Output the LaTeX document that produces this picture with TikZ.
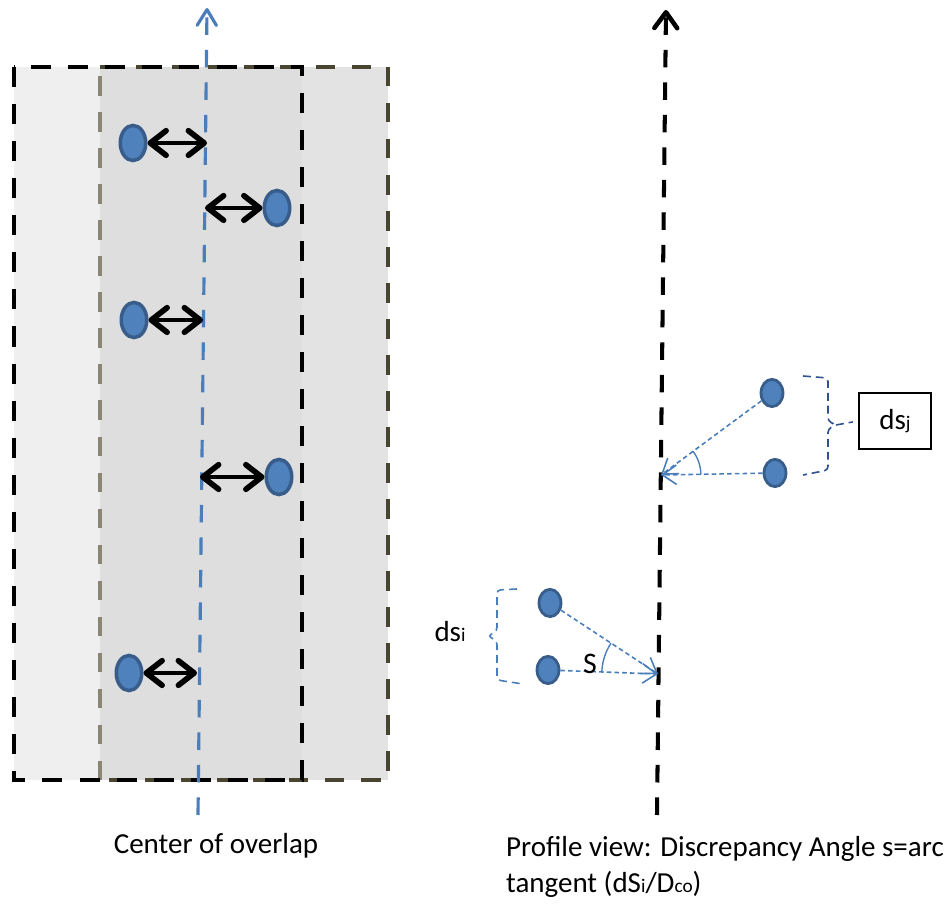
\documentclass[tikz,border=0pt]{standalone}
\usepackage{fontspec}
\setmainfont{Carlito}
\usetikzlibrary{shapes.geometric,arrows.meta,angles}

\definecolor{dotblue}{HTML}{4F81BD}
\definecolor{dotedge}{HTML}{385D8A}
\definecolor{lineblue}{HTML}{4A7EBB}
\definecolor{bracecol}{HTML}{2F528F}
\definecolor{olivedash}{HTML}{4A4530}
\definecolor{olivegray}{HTML}{8A8676}
\definecolor{stripA}{HTML}{EFEFEF}
\definecolor{stripB}{HTML}{DEDEDE}
\definecolor{stripC}{HTML}{E3E3E3}

\newcommand{\smalltxt}[1]{{\fontsize{11pt}{11pt}\selectfont #1}}

\tikzset{
  bigdot/.style={ellipse, draw=dotedge, fill=dotblue, line width=2pt,
    minimum width=14.5pt, minimum height=20pt, inner sep=0pt},
  smalldot/.style={ellipse, draw=dotedge, fill=dotblue, line width=1.6pt,
    minimum width=12.5pt, minimum height=15.5pt, inner sep=0pt},
  offsetarrow/.style={draw=black, line width=2.3pt,
    {Straight Barb[length=9pt,width=14pt,line width=3.2pt,round]}-{Straight Barb[length=9pt,width=14pt,line width=3.2pt,round]}},
  sightline/.style={draw=lineblue, line width=0.9pt, dash pattern=on 2.6pt off 1.8pt,
    -{Straight Barb[length=8pt,width=11pt,line width=0.9pt]}},
  bracket/.style={line width=0.9pt, dash pattern=on 4.5pt off 2.8pt, rounded corners=2pt},
  caption/.style={font=\fontsize{16.5pt}{20.5pt}\selectfont}
}

\begin{document}
\begin{tikzpicture}[x=0.02cm, y=-0.02cm]
  \useasboundingbox (0,0) rectangle (948,905);

  % two overlapping strips
  \fill[stripA] (14,67) rectangle (100,780);
  \fill[stripB] (100,67) rectangle (302,780);
  \fill[stripC] (302,67) rectangle (388,780);
  \draw[olivedash, line width=1.8pt, dash pattern=on 11pt off 9.5pt]
    (100,67) -- (388,67) -- (388,780) -- (100,780);
  \draw[olivegray, line width=1.8pt, dash pattern=on 11pt off 9.5pt] (100,780) -- (100,67);
  \draw[black, line width=2.3pt, dash pattern=on 11.4pt off 9.7pt] (14,67) rectangle (302,780);

  % center of overlap
  \coordinate (cb) at (198,815);
  \coordinate (ct) at (207,8);
  \draw[lineblue, line width=1.8pt, dash pattern=on 10pt off 8.5pt,
    -{Straight Barb[length=9pt,width=11pt,line width=1.8pt,round]}] (cb) -- (ct);

  \coordinate (c1) at (207,143);
  \coordinate (c2) at (205,208);
  \coordinate (c3) at (203,320);
  \coordinate (c4) at (200,477);
  \coordinate (c5) at (197,673);

  \begin{scope}[every node/.style={bigdot}]
    \node (d1) at (133,143) {};
    \node (d2) at (277,208) {};
    \node (d3) at (134,320) {};
    \node (d4) at (279,477) {};
    \node (d5) at (129,673) {};
  \end{scope}

  \path (d1) edge[offsetarrow] (c1);
  \path (d2) edge[offsetarrow] (c2);
  \path (d3) edge[offsetarrow] (c3);
  \path (d4) edge[offsetarrow] (c4);
  \path (d5) edge[offsetarrow] (c5);

  \node[caption, anchor=base] (capl) at (216,854) {Center of overlap};

  % profile view
  \coordinate (pb) at (657,815);
  \coordinate (pt) at (666,10);
  \draw[black, line width=2.3pt, dash pattern=on 10pt off 8.5pt,
    -{Straight Barb[length=9pt,width=13pt,line width=2.6pt,round]}] (pb) -- (pt);

  \coordinate (vj) at (661,475);
  \coordinate (vi) at (658,674);

  \begin{scope}[every node/.style={smalldot}]
    \node (j1) at (772,393) {};
    \node (j2) at (775,473) {};
    \node (i1) at (550,603) {};
    \node (i2) at (548,670) {};
  \end{scope}

  \path (j1) edge[sightline] (vj);
  \path (j2) edge[sightline] (vj);
  \path (i1) edge[sightline] (vi);
  \path (i2) edge[sightline] (vi);

  \pic[draw=lineblue, line width=0.8pt, angle radius=22.7pt] {angle=j2--vj--j1};
  \pic[draw=lineblue, line width=0.8pt, angle radius=32pt] {angle=i1--vi--i2};

  \node[font=\fontsize{17pt}{17pt}\selectfont] (sl) at (590,664) {S};

  % brackets
  \coordinate (bj) at (836,425);
  \draw[bracket, bracecol] (803,376) -- (828,378) -- (828,421) -- (bj) -- (828,429) -- (828,470) -- (803,475);
  \node[draw, line width=1.1pt, minimum width=41pt, minimum height=32pt, caption] (boxj) at (895,421) {ds\smalltxt{j}};
  \path (bj) edge[bracket, draw=bracecol, shorten >=3pt] (boxj.west);

  \draw[bracket, lineblue] (517,589) -- (497,590) -- (497,631) -- (488,636) -- (497,641) -- (497,680) -- (523,684);
  \node[caption] (labi) at (450,632) {ds\smalltxt{i}};

  \node[caption, anchor=base west, align=left] (capr) at (500,893)
    {Profile view: Discrepancy Angle s=arc\\tangent (dS\smalltxt{i}/D\smalltxt{co})};
\end{tikzpicture}
\end{document}
